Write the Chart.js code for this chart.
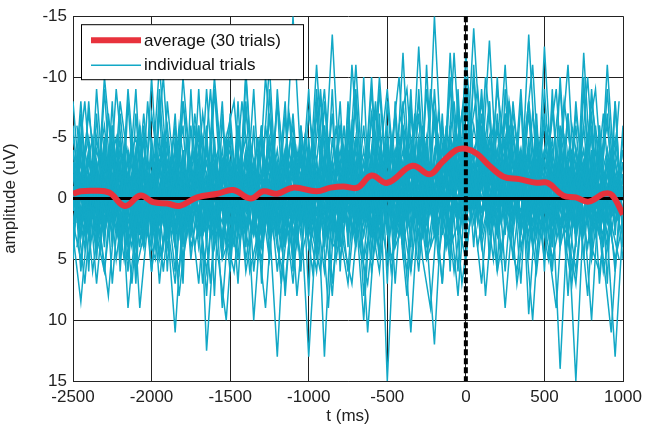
<!DOCTYPE html>
<html>
<head>
<meta charset="utf-8">
<script src="https://cdn.jsdelivr.net/npm/chart.js@4.4.1/dist/chart.umd.min.js"></script>
<style>
  body { margin: 0; background: #fff; }
  canvas { display: block; }
</style>
</head>
<body>
<canvas id="erp" width="657" height="430"></canvas>
<script>
// sample times (ms) of the single trials
const times = [
  -2500,-2450,-2400,-2350,-2300,-2250,-2200,-2150,-2100,-2050,
  -2000,-1950,-1900,-1850,-1800,-1750,-1700,-1650,-1600,-1550,
  -1500,-1450,-1400,-1350,-1300,-1250,-1200,-1150,-1100,-1050,
  -1000,-950,-900,-850,-800,-750,-700,-650,-600,-550,
  -500,-450,-400,-350,-300,-250,-200,-150,-100,-50,
  0,50,100,150,200,250,300,350,400,450,
  500,550,600,650,700,750,800,850,900,950,
  1000
];
// second sampling grid, shifted by half a step
const timesB = [
  -2475,-2425,-2375,-2325,-2275,-2225,-2175,-2125,-2075,-2025,
  -1975,-1925,-1875,-1825,-1775,-1725,-1675,-1625,-1575,-1525,
  -1475,-1425,-1375,-1325,-1275,-1225,-1175,-1125,-1075,-1025,
  -975,-925,-875,-825,-775,-725,-675,-625,-575,-525,
  -475,-425,-375,-325,-275,-225,-175,-125,-75,-25,
  25,75,125,175,225,275,325,375,425,475,
  525,575,625,675,725,775,825,875,925,975
];

// individual trials (uV)
const trial1 = [-2,3,-4,1,-10,-3,2,-1,4,-3, 1,-5,2,-2,3,-1,-4,12.5,3,-2, -4,1,-3,2,-1,-5,0,3,-2,-4, 1,-2,4,-3,0,-5,-1,2,-3,1, -4,0,-2,3,-5,-1,2,-4,-2,0, -5,-2,1,-3,-6,-1,2,-3,0,-4, 1,-2,3,-1,-4,0,2,-3,1,-2, 0];
const trial2 = [1,-3,2,-5,0,3,-2,1,-4,2, -1,-11,-2,3,-3,0,2,-4,1,-1, 3,-2,-5,0,2,-3,1,-1,-4,2, -2,0,-6,1,3,-2,-4,0,2,-3, 15,1,-3,-1,2,-4,0,-2,-5,1, -3,0,-4,2,-2,-5,1,-1,3,-3, -1,2,-4,0,3,-2,-5,1,-1,2, -3];
const trial3 = [3,8.5,1,-2,2,-4,0,3,-1,-3, 2,0,-4,1,-2,3,-1,-3,0,2, -2,-4,1,3,-1,-3,2,-2,-15,-3, 0,2,-3,1,-1,-4,3,0,-2,1, -3,2,-1,-5,0,3,-2,-4,1,-1, -4,-2,2,-3,0,9,1,-2,-4,0, 2,-3,-1,3,-2,-4,1,0,-3,2, 1];
const trial4 = [-4,0,2,-1,-3,1,4,-2,0,-5, 2,-1,3,-3,0,-2,4,-1,-4,1, -1,3,-2,0,-4,2,13,1,-3,0, -2,4,-1,-3,2,0,-5,1,3,-2, 0,-3,2,-1,-4,1,-15,-2,0,-4, -2,1,-5,0,3,-2,-1,-4,2,0, -3,1,-2,4,0,-3,2,-1,-4,1, 3];
const trial5 = [2,-2,-5,1,3,-1,-3,9,2,0, -3,2,-1,-4,1,3,-2,0,2,-3, 1,-1,3,-2,0,-4,2,-1,1,-3, 3,0,-2,-13.5,-1,2,0,-3,1,-4, 2,-1,0,3,-3,1,-2,0,-4,2, -1,-3,0,2,-4,1,-2,3,-1,-5, 0,2,-2,-1,3,-3,0,-2,2,-1, -2];
const trial6 = [-1,2,0,-3,1,-2,3,-4,-1,2, 0,-3,2,11,1,-2,0,3,-3,-1, 2,0,-3,1,-2,3,-1,-4,0,2, -3,1,0,-2,3,-4,2,-1,-3,0, 1,-2,3,-4,0,-1,2,-3,0,-5, -2,-14,-3,0,1,-4,-1,2,-3,0, -2,3,-1,0,-4,2,-2,1,-3,0, -1];
const trial7 = [0,-3,1,4,-2,0,2,-9,-1,3, -2,1,-3,0,3,-1,-2,2,-4,0, 1,-3,2,-1,-4,0,3,-2,1,-1, 2,-2,13,0,-3,2,-1,1,-4,3, -1,0,-4,2,0,-3,1,-2,3,-3, 0,-4,-2,1,-3,2,-5,0,-13.5,-2, 1,-3,0,2,-1,-4,3,-2,0,-3, 2];
const trial8 = [1,-1,3,-2,0,2,-4,1,-1,-3, 3,0,-2,1,-10,-2,2,-1,3,0, -3,2,0,-2,1,-3,3,0,-1,2, -4,0,2,-1,-3,1,0,3,-2,-1, 2,-3,0,1,-2,3,12,0,-3,1, -3,0,-1,-4,2,-2,0,-3,1,-1, -4,0,14,1,-2,0,-3,2,-1,-4, 0];
const trial9 = [-3,1,-1,2,-4,1,0,-2,3,-1, -2,3,0,-3,2,-1,1,-4,0,3, -1,2,-10.5,0,3,-2,-1,2,-3,1, 13,2,-1,0,-4,1,-2,3,-1,-2, 0,3,-3,-1,1,-4,2,-2,0,-3, -1,-3,2,-5,0,1,-3,-1,2,-4, 0,-2,1,-3,2,-12,-1,3,-2,0, -4];
const trial10 = [2,-2,0,-3,3,-1,-4,0,2,-2, 1,-3,3,-1,0,2,-3,1,-2,9, 0,-2,1,-3,2,0,-4,1,3,-1, -2,2,0,-3,1,-1,3,-2,0,-10, -1,2,0,-2,3,-3,1,-1,-4,2, -4,-1,1,-2,-4,0,2,-3,-1,1, -2,-4,0,2,15,1,-3,0,2,-2, 1];
const trial11 = [-1,3,-2,0,1,-3,2,-1,-3,1, 4,-1,0,-2,2,-3,1,0,-10,-2, 2,-1,3,-3,0,1,-2,3,-1,-3, 0,-2,2,-1,-3,3,0,-2,1,-1, -3,0,2,11,0,-2,-3,1,-1,2, -3,0,-2,-13,-1,0,-3,2,-2,0, -1,2,-3,0,-2,3,-1,-4,0,2, -2];
const trial12 = [3,-1,1,-4,-1,2,0,-2,1,4, -2,0,3,-1,-3,1,-2,2,0,-4, 1,-2,0,3,-1,-11,1,-3,2,0, -1,3,-3,0,2,-2,1,10,-1,2, -2,-4,1,0,2,-3,0,-1,-3,1, -2,1,-4,-1,2,-3,0,1,-4,-1, 2,-1,-3,1,0,-2,2,-1,3,13, 2];
const trial13 = [0,2,-1,7,0,-3,1,3,-2,0, -2,1,-3,2,0,-1,3,-2,1,-3, 2,0,-1,-3,3,0,-2,1,2,-2, 0,-11,-1,2,0,-3,1,-2,3,0, -4,1,-1,3,-2,0,-3,2,-1,-4, 0,-2,-4,1,-2,0,3,-3,-1,2, -12.5,-1,1,-3,0,2,-2,0,-3,1, -1];
const trial14 = [-2,0,2,-1,3,-2,0,-3,2,1, -1,-3,1,3,-2,0,-1,2,3,-2, 0,3,-2,10,1,-1,-3,2,0,-2, 2,-1,0,-3,2,-1,-11,0,2,-3, 1,-1,-3,0,2,-2,3,-1,1,-3, -2,2,-1,-3,0,-1,2,-4,9.5,0, -3,1,2,-2,0,-3,1,3,-1,-3, 0];
const trial15 = [1,-4,0,2,-2,3,-1,0,-4,2, -1,2,-2,0,3,-3,2,-1,0,1, -3,0,2,-1,-2,3,0,-3,1,2, -2,0,3,-1,1,-2,0,-4,1,2, -2,0,-12,1,-1,2,-4,0,2,-2, -4,1,7,-1,-3,2,-2,0,-3,1, 0,-3,2,-1,3,-2,0,1,-11,-1, 2];
const trial16 = [-3,2,1,-2,0,-4,3,0,-2,3, 0,-2,1,-4,2,0,-3,3,-1,0, 2,-3,1,0,-2,1,3,-1,-3,2, -1,1,-3,3,-2,0,2,-1,-3,1, -1,2,-2,0,-12.5,-1,2,-3,1,8, -1,-3,0,2,-2,-4,1,0,-2,3, -1,0,-3,2,-2,1,10,-1,0,-3, 1];
const trial17 = [1,-8,2,0,-3,1,-1,2,0,-3, 6,-1,-3,2,0,-2,1,3,-2,0, -1,2,-3,0,1,-3,2,0,-2,3, -3,0,1,-2,3,-1,0,-3,2,-1, 2,-3,0,-2,1,-1,-3,2,-12,-1, -3,-1,1,-2,0,-3,-1,2,0,-3, 1,-2,0,3,-3,-1,2,0,-2,1, -3];
const trial18 = [-2,1,3,-1,0,-3,2,0,3,-2, -3,0,2,-1,3,-2,0,-3,1,3, -2,0,-4,2,0,-1,3,-2,0,-1, 3,-2,1,8,-1,0,-3,2,-1,0, -2,3,-1,0,-3,2,-1,-4,0,2, -12,-3,0,-1,2,-3,0,1,-2,-4, 2,0,-2,1,-4,0,-1,3,-2,0, -1];
const trial19 = [2,0,-2,3,-1,1,-3,2,0,1, -2,3,-1,0,-3,2,0,-2,3,-1, 0,-3,2,-1,0,3,-3,1,7,-1, 0,-3,2,0,-2,1,3,-2,0,-3, 1,-2,3,-3,0,2,-2,1,-1,-3, 0,-2,-4,2,-1,-11,0,-2,1,-3, 0,-1,-3,-11,1,-2,0,2,-3,1, 0];
const trial20 = [-1,2,-3,0,2,-1,3,-2,1,-7, 0,2,-1,-3,1,3,-2,0,2,-3, 1,-1,3,-2,0,2,-3,0,1,-2, 2,-3,0,1,-1,3,-2,0,-9,1, -2,0,2,-3,1,-1,0,7,-2,-1, -3,1,-2,0,-3,2,-1,-3,0,2, -2,0,-3,1,-1,2,-2,0,3,-1, -2];
const trial21 = [-6,2,-8,1,-5,4,-7,0,-9,3, -4,5,-8,-1,-6,3,-9,2,-5,4, -7,1,-8,3,-6,5,-9,0,-7,2, -5,4,-8,1,-6,3,-9,2,-7,5, -8,0,-6,4,-9,1,-7,3,-10,2, -8,0,-9,1,-6,3,-8,-1,-7,2, -9,1,-6,3,-8,0,-7,2,-9,1, -5];
const trial22 = [4,-7,3,-9,0,-6,5,-8,2,-5, 3,-9,1,-7,4,-6,2,-9,0,-8, 4,-6,1,-9,3,-7,0,-8,5,-6, 2,-9,0,-7,4,-8,1,-6,3,-9, 0,-7,5,-8,2,-9,0,-6,3,-8, 1,-10,-2,-8,3,-7,0,-9,2,-6, 3,-8,0,-7,4,-9,1,-6,2,-8, 3];
const trial23 = [-3,6,-2,5,-4,7,-1,6,-3,4, -2,7,0,6,-4,5,-1,8,-3,5, -2,7,-4,6,0,5,-3,8,-1,6, -4,5,-2,7,0,6,-3,8,-1,5, -4,7,-2,6,-5,5,0,7,-3,6, -5,4,-6,5,-3,6,-2,7,-4,5, -1,6,-3,8,-2,5,-4,7,-1,6, -2];
const trial24 = [5,-5,6,-7,3,-8,6,-4,7,-6, 4,-8,6,-5,7,-9,3,-6,8,-7, 5,-8,4,-6,7,-9,2,-7,6,-5, 8,-8,3,-9,6,-6,4,-10,5,-7, 7,-8,2,-9,5,-11,3,-7,6,-9, 4,-11,3,-8,6,-9,2,-8,5,-7, 6,-9,4,-7,3,-10,5,-6,7,-8, 4];
const trial25 = [-5,-1,-7,-2,-6,1,-8,-3,-5,0, -7,-2,-6,1,-8,-3,-5,0,-9,-2, -6,1,-7,-3,-5,0,-8,-2,-6,1, -7,-3,-9,0,-6,-2,-8,1,-7,-3, -9,-1,-6,-3,-8,0,-7,-2,-9,-4, -10,-3,-8,-1,-9,-4,-7,-2,-8,-1, -6,-3,-9,0,-7,-2,-8,-3,-6,0, -4];
const trial26 = [3,-1,5,0,6,-2,4,1,5,-1, 6,0,4,-2,5,1,7,-1,4,0, 6,-2,5,1,4,-1,6,0,5,-2, 4,1,6,-1,5,0,4,-2,6,1, 5,-1,4,0,6,-2,3,1,5,-3, 2,-2,4,0,3,-3,5,-1,4,0, 5,-2,4,1,6,-1,5,0,4,-1, 5];
const trial27 = [-8,0,-4,3,-9,1,-5,4,-7,2, -10,1,-5,3,-8,0,-6,4,-9,1, -5,3,-10,0,-6,2,-8,4,-5,0, -9,3,-6,1,-8,4,-5,0,-10,2, -6,3,-8,0,-7,4,-9,1,-6,3, -9,0,-7,2,-10,1,-6,3,-8,0, -7,4,-10,1,-6,2,-9,0,-7,3, -6];
const trial28 = [2,5,-1,3,6,0,4,-2,6,3, -1,5,2,7,-2,4,1,6,-1,5, 3,-2,6,2,5,-1,4,7,0,5, 2,6,-1,4,3,7,0,5,2,6, -1,4,2,6,0,5,3,-2,4,2, 5,-1,3,0,6,2,-2,4,1,6, 0,5,2,3,7,-1,4,6,1,5, 2];
const trial29 = [0,-5,2,-3,4,-6,1,-2,3,-5, 2,-4,0,-6,3,-2,1,-5,2,-3, 4,-6,0,-2,3,-5,1,-4,2,-6, 0,-3,4,-5,1,-7,2,-3,0,-6, 3,-4,1,-7,0,-5,2,-6,-1,-7, 0,-6,-2,-5,1,-7,0,-4,2,-6, 1,-5,3,-4,0,-6,2,-3,1,-5, 0];
const trial30 = [-4,3,-2,4,-5,2,-3,5,-1,4, -5,1,-2,4,-4,2,-6,3,-1,4, -3,5,-4,1,-6,3,-2,4,-5,2, -1,4,-4,2,-6,0,-3,5,-2,3, -5,2,-6,1,-3,4,-7,0,-4,2, -6,1,-5,3,-7,0,-4,2,-5,3, -2,4,-5,1,-3,3,-6,2,-4,0, -3];

// trials sampled on the shifted grid
const trialB1 = [-3,2,-1,4,-4,1,-2,3,-5,0, 2,-3,1,-4,3,-1,-5,2,0,-3, 4,-2,1,-5,2,-1,3,-4,0,2, -3,1,-5,3,-2,0,-4,2,-1,3, -5,0,2,-4,1,-3,3,-6,0,2, -4,1,-5,-1,2,-6,0,-3,1,-4, 3,-2,-5,1,-3,2,-4,0,3,-2];
const trialB2 = [2,-4,0,3,-2,-5,1,4,-3,0, -4,2,-1,3,-5,1,3,-2,-4,2, -1,3,-4,0,2,-5,1,3,-2,-4, 2,0,-3,4,-1,-5,2,-2,3,-4, 1,3,-5,0,-2,4,-3,1,-5,0, 2,-4,1,-3,0,3,-5,-1,2,-3, 0,3,-4,-1,2,-5,1,3,-3,0];
const trialB3 = [-6,0,-3,2,-7,-1,1,-5,3,-8, 0,-4,2,-6,-1,1,-7,-2,2,-5, -8,0,-3,3,-6,-1,1,-7,-2,2, -5,-8,0,-4,2,-6,-1,1,-7,-3, 2,-6,-9,0,-4,1,-7,-2,-8,0, -5,-9,-1,-6,0,-8,-3,1,-7,-2, -6,0,-8,-3,1,-5,-9,0,-4,2];
const trialB4 = [4,-1,6,1,-2,5,0,7,-1,3, 5,-2,2,6,-1,4,0,7,-2,3, 6,0,-3,5,2,-1,7,1,4,-2, 3,6,-1,5,0,-3,4,7,1,-2, 5,2,6,-1,3,-3,5,0,6,1, -2,4,0,5,-3,3,6,-1,4,1, 5,-2,3,7,0,4,-1,6,2,5];
const trialB5 = [-1,3,-3,0,2,-4,1,-2,4,-3, 0,-5,3,1,-2,-4,2,-1,3,-5, 0,2,-3,4,-1,-4,1,-2,3,0, -5,2,-1,3,-4,1,0,-3,4,-2, -4,1,-3,2,-6,0,-2,3,-4,-1, -3,2,-5,0,-2,1,-4,3,-1,-5, 1,-3,0,2,-4,1,-2,4,-3,0];
const trialB6 = [1,-2,-5,3,0,-3,2,-1,-6,2, -2,4,-1,-3,1,-6,3,0,-2,4, -3,-1,2,-5,1,-2,4,-3,-1,1, 3,-4,-2,1,-6,3,-1,2,-4,0, -2,-5,1,-3,3,-1,-5,2,-3,-7, 1,-4,-2,2,-6,-1,1,-4,3,-2, -5,1,-2,-4,3,0,-6,1,-2,2];
const trialB7 = [-2,-8,0,-4,1,-9,-2,0,-6,2, -3,-10,0,-5,2,-7,-1,-9,1,-4, 0,-8,-2,1,-10,-3,0,-7,2,-5, -1,-9,0,-6,2,-11,-2,0,-8,1, -4,-10,0,-7,2,-9,-3,0,-12,-1, -6,1,-10,-3,0,-8,2,-5,-11,0, -4,-9,1,-6,-2,-10,0,-7,1,-8];
const trialB8 = [1,7,-1,3,8,0,5,-2,9,2, 0,6,-1,8,2,-2,7,0,5,10, 1,-1,6,3,9,0,4,-2,8,1, 6,0,9,-1,4,7,0,11,2,-1, 6,1,8,-2,5,9,0,4,-1,7, 2,-2,8,0,5,-1,7,2,10,0, 4,9,-1,6,1,8,-2,5,11,1];
const trialB9 = [-4,1,-2,3,-3,0,2,-4,1,-1, 3,-3,0,2,-5,1,-2,3,-1,-4, 2,0,-3,1,-1,3,-4,0,2,-2, -4,1,3,-3,0,-2,2,-5,1,-1, 0,-4,2,-2,-5,1,-3,0,-4,2, -3,-5,0,-2,2,-4,-1,1,-3,0, -4,2,-1,-3,1,-5,0,2,-2,-1];
const trialB10 = [0,4,-3,1,-1,3,-4,2,0,-2, 4,-1,-3,2,0,-4,3,1,-2,0, -3,2,4,-2,0,-3,1,3,-4,1, 0,-2,3,-1,1,-4,2,0,-3,3, -1,2,-4,0,1,-3,2,-2,-5,1, 0,-3,1,-4,2,-2,0,3,-3,1, -2,0,-4,2,1,-3,3,-1,0,-2];

const trials = [trial1, trial2, trial3, trial4, trial5, trial6, trial7, trial8, trial9, trial10,
  trial11, trial12, trial13, trial14, trial15, trial16, trial17, trial18, trial19, trial20,
  trial21, trial22, trial23, trial24, trial25, trial26, trial27, trial28, trial29, trial30];
const trialsB = [trialB1, trialB2, trialB3, trialB4, trialB5, trialB6, trialB7, trialB8, trialB9, trialB10];

// averaged response
const avgTimes = [-2500,-2450,-2370,-2270,-2170,-2070,-1990,-1900,-1820,-1710,
  -1580,-1480,-1370,-1290,-1200,-1100,-950,-860,-780,-690,
  -600,-500,-340,-230,-150,-60,0,70,150,240,
  340,450,520,620,700,780,880,930,1000];
const avgValues = [-0.4,-0.6,-0.65,-0.5,0.6,-0.25,0.3,0.4,0.6,-0.1,
  -0.4,-0.7,0,-0.6,-0.4,-0.9,-0.6,-0.9,-1.0,-0.9,
  -1.9,-1.3,-2.7,-2.0,-3.0,-4.0,-4.1,-3.7,-2.7,-1.8,
  -1.6,-1.3,-1.3,-0.25,-0.1,0.25,-0.4,-0.3,1.3];

const xTicks = [-2500, -2000, -1500, -1000, -500, 0, 500, 1000];
const yTicks = [-15, -10, -5, 0, 5, 10, 15];

const cyan = '#12a8c6';
const red = '#e8323c';

const datasets = [];
function addTrial(tr, grid, name) {
  datasets.push({
    label: name,
    data: tr.map((v, i) => ({ x: grid[i], y: v })),
    borderColor: cyan,
    borderWidth: 1.5,
    pointRadius: 0,
    tension: 0,
    order: 3
  });
}
trials.forEach((tr, k) => addTrial(tr, times, 'trial ' + (k + 1)));
trialsB.forEach((tr, k) => addTrial(tr, timesB, 'trial B' + (k + 1)));

datasets.push({
  label: 'zero',
  data: [{ x: xTicks[0], y: 0 }, { x: xTicks[xTicks.length - 1], y: 0 }],
  borderColor: '#000',
  borderWidth: 3,
  pointRadius: 0,
  order: 2
});
datasets.push({
  label: 'onset',
  data: [{ x: 0, y: yTicks[0] }, { x: 0, y: yTicks[yTicks.length - 1] }],
  borderColor: '#000',
  borderWidth: 4,
  borderDash: [6, 3],
  pointRadius: 0,
  order: 1
});
datasets.push({
  label: 'average (30 trials)',
  data: avgValues.map((v, i) => ({ x: avgTimes[i], y: v })),
  borderColor: red,
  borderWidth: 6,
  pointRadius: 0,
  tension: 0.4,
  order: 0
});

// legend box drawn inside the plot, top left
const boxLegend = {
  id: 'boxLegend',
  afterDraw(chart) {
    const c = chart.ctx;
    const a = chart.chartArea;
    const x0 = a.left + 8, y0 = a.top + 8, w = 222, h = 55;
    c.save();
    c.fillStyle = '#fff';
    c.fillRect(x0, y0, w, h);
    c.strokeStyle = '#000';
    c.lineWidth = 1;
    c.strokeRect(x0 + 0.5, y0 + 0.5, w, h);
    c.font = '17px Arial, "Liberation Sans", sans-serif';
    c.textBaseline = 'middle';
    c.fillStyle = '#111';
    c.lineWidth = 6;
    c.strokeStyle = red;
    c.beginPath(); c.moveTo(x0 + 10, y0 + 16); c.lineTo(x0 + 60, y0 + 16); c.stroke();
    c.fillText('average (30 trials)', x0 + 63, y0 + 17);
    c.lineWidth = 1.5;
    c.strokeStyle = cyan;
    c.beginPath(); c.moveTo(x0 + 10, y0 + 41); c.lineTo(x0 + 60, y0 + 41); c.stroke();
    c.fillText('individual trials', x0 + 63, y0 + 41);
    c.restore();
  }
};

const font = { size: 17, family: 'Arial, "Liberation Sans", sans-serif' };

new Chart(document.getElementById('erp').getContext('2d'), {
  type: 'line',
  data: { datasets },
  plugins: [boxLegend],
  options: {
    responsive: false,
    animation: false,
    layout: { padding: { top: 15, right: 34, left: 0, bottom: 0 } },
    plugins: { legend: { display: false }, tooltip: { enabled: false } },
    scales: {
      x: {
        type: 'linear',
        min: -2500,
        max: 1000,
        afterFit: s => { s.height = 49; },
        afterBuildTicks: s => { s.ticks = xTicks.map(v => ({ value: v })); },
        grid: { color: '#222', lineWidth: 1, drawTicks: false },
        border: { color: '#222' },
        ticks: { color: '#222', font, padding: 6, maxRotation: 0, callback: v => String(v) },
        title: { display: true, text: 't (ms)', color: '#222', font, padding: { top: 0, bottom: 3 } }
      },
      y: {
        type: 'linear',
        reverse: true,
        min: -15,
        max: 15,
        afterFit: s => { s.width = 73; },
        afterBuildTicks: s => { s.ticks = yTicks.map(v => ({ value: v })); },
        grid: { color: '#222', lineWidth: 1, drawTicks: false },
        border: { color: '#222' },
        ticks: { color: '#222', font, padding: 6, callback: v => String(v) },
        title: { display: true, text: 'amplitude (uV)', color: '#222', font, padding: { top: 0, bottom: 4 } }
      }
    }
  }
});
</script>
</body>
</html>
